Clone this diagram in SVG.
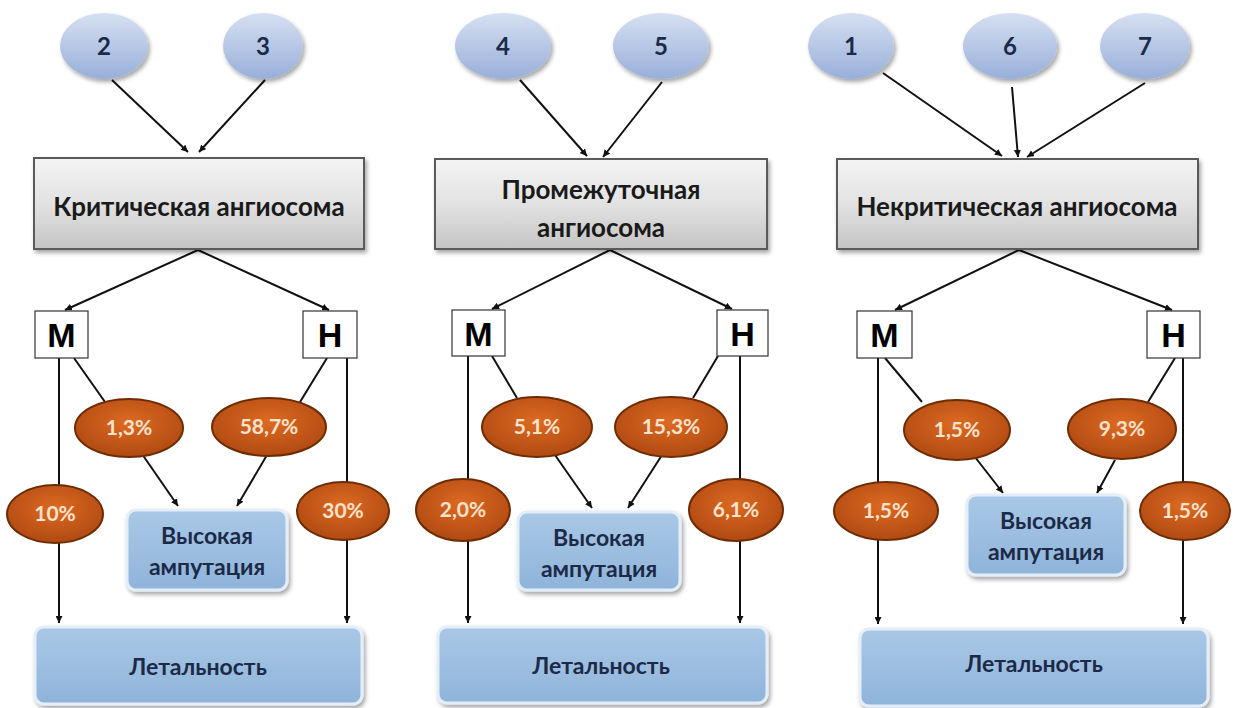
<svg xmlns="http://www.w3.org/2000/svg" width="1238" height="708" viewBox="0 0 1238 708">
<defs>
  <linearGradient id="gBlue" x1="0" y1="0" x2="0" y2="1">
    <stop offset="0" stop-color="#d6e0f2"/>
    <stop offset="1" stop-color="#98afd9"/>
  </linearGradient>
  <linearGradient id="gGray" x1="0" y1="0" x2="0" y2="1">
    <stop offset="0" stop-color="#f4f4f4"/>
    <stop offset="0.5" stop-color="#e2e2e2"/>
    <stop offset="1" stop-color="#c4c4c4"/>
  </linearGradient>
  <radialGradient id="gOrange" cx="0.5" cy="0.4" r="0.6">
    <stop offset="0" stop-color="#dd6a22"/>
    <stop offset="1" stop-color="#b04a12"/>
  </radialGradient>
  <linearGradient id="gBox" x1="0" y1="0" x2="0" y2="1">
    <stop offset="0" stop-color="#a9c8e6"/>
    <stop offset="1" stop-color="#8fb4da"/>
  </linearGradient>
  <filter id="sh" x="-20%" y="-20%" width="140%" height="150%">
    <feDropShadow dx="2" dy="3" stdDeviation="2" flood-color="#000" flood-opacity="0.35"/>
  </filter>
  <marker id="ah" viewBox="0 0 10 10" refX="10" refY="5" markerWidth="7" markerHeight="7" markerUnits="userSpaceOnUse" orient="auto">
    <path d="M0,0 L10,5 L0,10 z" fill="#111"/>
  </marker>
  <style>
    .num { fill: url(#gBlue); filter: url(#sh); }
    .numt { font-family: Lato, "Liberation Sans", sans-serif; font-weight: bold; font-size: 24px; fill: #1c2a48; text-anchor: middle; }
    .ang { fill: url(#gGray); stroke: #5a5a5a; stroke-width: 2; filter: url(#sh); }
    .angt { font-family: Lato, "Liberation Sans", sans-serif; font-weight: bold; font-size: 26px; fill: #1a1a1a; text-anchor: middle; }
    .mh { fill: #fff; stroke: #333; stroke-width: 1.2; }
    .mht { font-family: "Liberation Sans", Arial, sans-serif; font-weight: bold; font-size: 34px; fill: #000; text-anchor: middle; }
    .pct { fill: url(#gOrange); stroke: #6e2c05; stroke-width: 2; }
    .pctt { font-family: Lato, "Liberation Sans", sans-serif; font-weight: bold; font-size: 21px; fill: #fbe3cd; text-anchor: middle; }
    .bx { fill: url(#gBox); stroke: #e4eef8; stroke-width: 3; filter: url(#sh); }
    .bxt { font-family: Lato, "Liberation Sans", sans-serif; font-weight: bold; font-size: 23px; fill: #1c2a48; text-anchor: middle; }
    .c { stroke: #111; stroke-width: 2; fill: none; }
    .ca { stroke: #111; stroke-width: 2; fill: none; marker-end: url(#ah); }
  </style>
</defs>
<rect width="1238" height="708" fill="#fff"/>

<g id="connectors">
  <line class="ca" x1="112" y1="80" x2="188" y2="152"/>
  <line class="ca" x1="265" y1="80" x2="199" y2="152"/>
  <line class="ca" x1="198" y1="250" x2="65" y2="310"/>
  <line class="ca" x1="198" y1="250" x2="329" y2="310"/>
  <line class="ca" x1="59" y1="358" x2="59" y2="623"/>
  <line class="ca" x1="347" y1="358" x2="347" y2="623"/>
  <line class="c" x1="74" y1="358" x2="105" y2="402"/>
  <line class="c" x1="327" y1="358" x2="300" y2="402"/>
  <line class="ca" x1="142" y1="454" x2="178" y2="506"/>
  <line class="ca" x1="267" y1="455" x2="237" y2="506"/>
  <line class="ca" x1="520" y1="80" x2="587" y2="156"/>
  <line class="ca" x1="662" y1="82" x2="603" y2="157"/>
  <line class="ca" x1="610" y1="250" x2="492" y2="309"/>
  <line class="ca" x1="610" y1="250" x2="732" y2="309"/>
  <line class="ca" x1="468" y1="356" x2="468" y2="623"/>
  <line class="ca" x1="740" y1="356" x2="740" y2="623"/>
  <line class="c" x1="492" y1="356" x2="517" y2="398"/>
  <line class="c" x1="718" y1="356" x2="693" y2="398"/>
  <line class="ca" x1="555" y1="455" x2="592" y2="508"/>
  <line class="ca" x1="662" y1="455" x2="628" y2="508"/>
  <line class="ca" x1="883" y1="73" x2="1002" y2="156"/>
  <line class="ca" x1="1012" y1="87" x2="1018" y2="157"/>
  <line class="ca" x1="1145" y1="83" x2="1027" y2="157"/>
  <line class="ca" x1="1019" y1="250" x2="895" y2="310"/>
  <line class="ca" x1="1019" y1="250" x2="1172" y2="310"/>
  <line class="ca" x1="878" y1="358" x2="878" y2="624"/>
  <line class="ca" x1="1183" y1="358" x2="1183" y2="624"/>
  <line class="c" x1="885" y1="358" x2="922" y2="402"/>
  <line class="c" x1="1175" y1="358" x2="1148" y2="402"/>
  <line class="ca" x1="975" y1="457" x2="1003" y2="493"/>
  <line class="ca" x1="1115" y1="460" x2="1097" y2="493"/>
</g>

<g id="n2"><ellipse class="num" cx="104" cy="46" rx="44" ry="33"/><text class="numt" x="104" y="55">2</text></g>
<g id="n3"><ellipse class="num" cx="263" cy="46" rx="40" ry="33"/><text class="numt" x="263" y="55">3</text></g>
<g id="crit"><rect class="ang" x="34" y="158" width="330" height="91"/><text class="angt" x="199" y="216">Критическая ангиосома</text></g>
<g id="m1"><rect class="mh" x="35" y="311" width="53" height="47"/><text class="mht" x="61.5" y="347">М</text></g>
<g id="h1"><rect class="mh" x="303" y="311" width="54" height="47"/><text class="mht" x="330" y="347">Н</text></g>
<g id="p1a"><ellipse class="pct" cx="129" cy="428" rx="54" ry="29"/><text class="pctt" x="129" y="435">1,3%</text></g>
<g id="p1b"><ellipse class="pct" cx="269" cy="427" rx="57" ry="29"/><text class="pctt" x="269" y="434">58,7%</text></g>
<g id="p1c"><ellipse class="pct" cx="55" cy="514" rx="48" ry="29"/><text class="pctt" x="55" y="521">10%</text></g>
<g id="p1d"><ellipse class="pct" cx="343" cy="511" rx="46" ry="29"/><text class="pctt" x="343" y="518">30%</text></g>
<g id="amp1"><rect class="bx" x="127" y="510" width="160" height="80" rx="9"/><text class="bxt" x="207" y="544">Высокая</text><text class="bxt" x="207" y="575">ампутация</text></g>
<g id="let1"><rect class="bx" x="35" y="627" width="327" height="77" rx="9"/><text class="bxt" x="198" y="675">Летальность</text></g>

<g id="n4"><ellipse class="num" cx="503" cy="46" rx="48" ry="33"/><text class="numt" x="503" y="55">4</text></g>
<g id="n5"><ellipse class="num" cx="661" cy="46" rx="48" ry="33"/><text class="numt" x="661" y="55">5</text></g>
<g id="inter"><rect class="ang" x="435" y="159" width="332" height="90"/><text class="angt" x="601" y="199">Промежуточная</text><text class="angt" x="601" y="237">ангиосома</text></g>
<g id="m2"><rect class="mh" x="452" y="310" width="53" height="46"/><text class="mht" x="478.5" y="346">М</text></g>
<g id="h2"><rect class="mh" x="717" y="310" width="51" height="46"/><text class="mht" x="742.5" y="346">Н</text></g>
<g id="p2a"><ellipse class="pct" cx="537" cy="427" rx="55" ry="30"/><text class="pctt" x="537" y="434">5,1%</text></g>
<g id="p2b"><ellipse class="pct" cx="671" cy="427" rx="56" ry="30"/><text class="pctt" x="671" y="434">15,3%</text></g>
<g id="p2c"><ellipse class="pct" cx="463" cy="510" rx="47" ry="31"/><text class="pctt" x="463" y="517">2,0%</text></g>
<g id="p2d"><ellipse class="pct" cx="736" cy="510" rx="47" ry="31"/><text class="pctt" x="736" y="517">6,1%</text></g>
<g id="amp2"><rect class="bx" x="518" y="512" width="162" height="78" rx="9"/><text class="bxt" x="599" y="546">Высокая</text><text class="bxt" x="599" y="577">ампутация</text></g>
<g id="let2"><rect class="bx" x="438" y="627" width="329" height="76" rx="9"/><text class="bxt" x="601" y="674">Летальность</text></g>

<g id="n1"><ellipse class="num" cx="851" cy="46" rx="43" ry="33"/><text class="numt" x="851" y="55">1</text></g>
<g id="n6"><ellipse class="num" cx="1010" cy="46" rx="47" ry="33"/><text class="numt" x="1010" y="55">6</text></g>
<g id="n7"><ellipse class="num" cx="1145" cy="46" rx="45" ry="33"/><text class="numt" x="1145" y="55">7</text></g>
<g id="noncrit"><rect class="ang" x="837" y="159" width="361" height="90"/><text class="angt" x="1017" y="216">Некритическая ангиосома</text></g>
<g id="m3"><rect class="mh" x="857" y="311" width="55" height="47"/><text class="mht" x="884.5" y="347">М</text></g>
<g id="h3"><rect class="mh" x="1147" y="311" width="53" height="47"/><text class="mht" x="1173.5" y="347">Н</text></g>
<g id="p3a"><ellipse class="pct" cx="957" cy="430" rx="53" ry="30"/><text class="pctt" x="957" y="437">1,5%</text></g>
<g id="p3b"><ellipse class="pct" cx="1122" cy="429" rx="54" ry="30"/><text class="pctt" x="1122" y="436">9,3%</text></g>
<g id="p3c"><ellipse class="pct" cx="886" cy="511" rx="52" ry="29"/><text class="pctt" x="886" y="518">1,5%</text></g>
<g id="p3d"><ellipse class="pct" cx="1185" cy="511" rx="45" ry="29"/><text class="pctt" x="1185" y="518">1,5%</text></g>
<g id="amp3"><rect class="bx" x="967" y="495" width="158" height="80" rx="9"/><text class="bxt" x="1046" y="529">Высокая</text><text class="bxt" x="1046" y="560">ампутация</text></g>
<g id="let3"><rect class="bx" x="860" y="629" width="348" height="77" rx="9"/><text class="bxt" x="1034" y="672">Летальность</text></g>
</svg>
